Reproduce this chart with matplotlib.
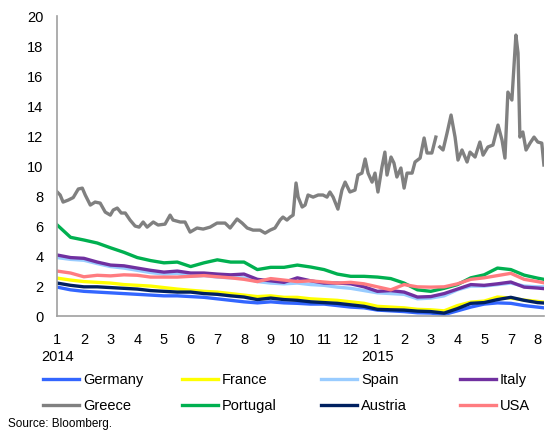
import matplotlib
matplotlib.use("Agg")
import matplotlib.pyplot as plt
import numpy as np

plt.rcParams['font.family'] = ['Liberation Sans', 'DejaVu Sans']

# month offsets from January 2014 for the weekly-ish sample points
months = list(np.arange(0, 18.5, 0.5)) + [18.24]

germany = [1.93, 1.75, 1.65, 1.6, 1.55, 1.5, 1.45, 1.4, 1.35, 1.35,
           1.3, 1.25, 1.15, 1.05, 0.95, 0.88, 0.95, 0.88, 0.85, 0.8,
           0.8, 0.7, 0.6, 0.55, 0.4, 0.35, 0.3, 0.22, 0.2, 0.1,
           0.35, 0.6, 0.8, 0.88, 0.85, 0.7, 0.6, 0.55]
france = [2.53, 2.4, 2.3, 2.25, 2.2, 2.1, 2.05, 2.0, 1.9, 1.8,
          1.72, 1.65, 1.6, 1.5, 1.4, 1.3, 1.35, 1.25, 1.25, 1.15,
          1.1, 1.05, 0.95, 0.85, 0.65, 0.6, 0.55, 0.45, 0.42, 0.35,
          0.7, 0.93, 1.0, 1.27, 1.2, 1.07, 0.98, 0.93]
spain = [3.9, 3.78, 3.72, 3.5, 3.3, 3.2, 3.05, 2.9, 2.8, 2.85,
         2.65, 2.7, 2.6, 2.55, 2.55, 2.3, 2.2, 2.15, 2.2, 2.1,
         2.05, 1.93, 1.85, 1.7, 1.55, 1.5, 1.45, 1.15, 1.2, 1.35,
         1.75, 2.0, 2.0, 2.1, 2.2, 2.0, 1.95, 1.95]
italy = [4.07, 3.9, 3.85, 3.6, 3.4, 3.35, 3.2, 3.05, 2.93, 3.0,
         2.87, 2.87, 2.8, 2.75, 2.8, 2.45, 2.35, 2.25, 2.55, 2.35,
         2.2, 2.2, 2.15, 1.95, 1.65, 1.7, 1.6, 1.27, 1.3, 1.5,
         1.8, 2.1, 2.05, 2.15, 2.27, 1.93, 1.87, 1.83]
portugal = [6.07, 5.25, 5.07, 4.87, 4.55, 4.25, 3.9, 3.7, 3.55, 3.6,
            3.3, 3.55, 3.75, 3.6, 3.6, 3.1, 3.25, 3.25, 3.4, 3.27,
            3.1, 2.8, 2.65, 2.65, 2.6, 2.5, 2.2, 1.75, 1.65, 1.85,
            2.1, 2.55, 2.75, 3.2, 3.1, 2.73, 2.53, 2.45]
austria = [2.2, 2.05, 1.95, 1.95, 1.9, 1.85, 1.8, 1.7, 1.65, 1.6,
           1.6, 1.5, 1.45, 1.35, 1.27, 1.1, 1.2, 1.1, 1.05, 0.95,
           0.9, 0.85, 0.75, 0.65, 0.45, 0.42, 0.4, 0.33, 0.3, 0.2,
           0.5, 0.85, 0.9, 1.1, 1.25, 1.05, 0.9, 0.87]
usa = [3.0, 2.87, 2.62, 2.72, 2.68, 2.75, 2.72, 2.6, 2.6, 2.6,
       2.65, 2.7, 2.62, 2.55, 2.45, 2.3, 2.5, 2.4, 2.3, 2.35,
       2.27, 2.2, 2.25, 2.15, 1.95, 1.75, 2.1, 1.95, 1.93, 1.95,
       2.15, 2.45, 2.55, 2.7, 2.85, 2.45, 2.3, 2.22]

# Greece moves a lot more, so it gets its own finer sampling
greece_months = [0.00, 0.11, 0.22, 0.41, 0.60, 0.79, 0.94, 1.05, 1.24, 1.42,
                 1.61, 1.80, 1.99, 2.10, 2.25, 2.40, 2.55, 2.73, 2.92, 3.07,
                 3.22, 3.37, 3.60, 3.78, 4.04, 4.23, 4.34, 4.61, 4.79, 4.98,
                 5.24, 5.47, 5.73, 5.99, 6.29, 6.48, 6.74, 6.93, 7.12, 7.34,
                 7.60, 7.79, 7.98, 8.16, 8.35, 8.46, 8.61, 8.73, 8.84, 8.95,
                 9.03, 9.18, 9.29, 9.40, 9.59, 9.78, 9.96, 10.11, 10.22, 10.34,
                 10.52, 10.67, 10.79, 10.97, 11.16, 11.27, 11.42, 11.54, 11.65, 11.80,
                 11.91, 12.02, 12.17, 12.28, 12.36, 12.51, 12.62, 12.73, 12.88, 13.00,
                 13.11, 13.30, 13.41, 13.60, 13.75, 13.86, 14.04, 14.19, 14.27, 14.34,
                 14.46, 14.61, 14.76, 14.91, 15.02, 15.17, 15.36, 15.47, 15.66, 15.84,
                 15.96, 16.14, 16.33, 16.52, 16.67, 16.78, 16.89, 17.04, 17.19, 17.27,
                 17.34, 17.45, 17.57, 17.72, 17.87, 18.01, 18.16, 18.24]
greece = [8.27, 8.07, 7.6, 7.73, 7.9, 8.47, 8.53, 8.07, 7.4, 7.6,
          7.53, 6.93, 6.73, 7.07, 7.2, 6.87, 6.87, 6.4, 6.0, 5.93,
          6.27, 5.93, 6.27, 6.07, 6.13, 6.73, 6.4, 6.27, 6.27, 5.6,
          5.87, 5.8, 5.93, 6.2, 6.2, 5.87, 6.47, 6.2, 5.87, 5.73,
          5.73, 5.53, 5.73, 5.87, 6.4, 6.6, 6.4, 6.6, 6.73, 8.87,
          7.93, 7.27, 7.4, 8.07, 7.93, 8.07, 8.07, 7.93, 8.27, 7.93,
          7.13, 8.4, 8.93, 8.27, 8.4, 9.4, 9.53, 10.47, 9.53, 8.93,
          9.53, 8.27, 9.93, 10.93, 9.4, 10.6, 10.2, 9.27, 9.87, 8.53,
          9.53, 9.53, 10.27, 10.53, 11.87, 10.87, 10.87, 11.93, np.nan, 11.27,
          11.07, 12.2, 13.4, 11.93, 10.4, 11.07, 10.27, 10.93, 10.6, 11.6,
          10.73, 11.27, 11.4, 12.73, 11.73, 10.53, 14.93, 14.4, 18.73, 17.53,
          11.93, 12.27, 11.07, 11.53, 11.93, 11.6, 11.53, 10.07]

month_labels = ['1', '2', '3', '4', '5', '6', '7', '8', '9', '10', '11', '12',
                '1', '2', '3', '4', '5', '7', '8']
year_labels = {0: '2014', 12: '2015'}

series = [
    ('Germany', months, germany, '#3366FF'),
    ('France', months, france, '#FFFF00'),
    ('Spain', months, spain, '#99CCFF'),
    ('Italy', months, italy, '#7030A0'),
    ('Greece', greece_months, greece, '#808080'),
    ('Portugal', months, portugal, '#00B050'),
    ('Austria', months, austria, '#002060'),
    ('USA', months, usa, '#FF7C80'),
]

fig = plt.figure(figsize=(5.45, 4.33), dpi=100)
ax = fig.add_axes([0.105, 0.27, 0.893, 0.693])

handles = {}
for name, xs, ys, color in series:
    line, = ax.plot(xs, ys, color=color, linewidth=2.4, label=name)
    handles[name] = line

ax.set_xlim(0, 18.24)
ax.set_ylim(0, 20)
ax.set_yticks(np.arange(0, 21, 2))
ax.set_xticks(range(len(month_labels)))
ax.set_xticklabels(month_labels)
ax.tick_params(axis='both', length=0, labelsize=10.5, colors='black')
ax.tick_params(axis='y', pad=10)
ax.tick_params(axis='x', pad=12.5)

for side in ['top', 'right']:
    ax.spines[side].set_visible(False)
for side in ['left', 'bottom']:
    ax.spines[side].set_color('#A0A0A0')
    ax.spines[side].set_linewidth(1.2)

for pos, year in year_labels.items():
    ax.annotate(year, xy=(pos, 0), xycoords=('data', 'axes fraction'),
                xytext=(0, -29.5), textcoords='offset points',
                ha='center', va='center', fontsize=10.5)

# two-entry legend per column so the columns sit on a fixed grid
columns = [('Germany', 'Greece'), ('France', 'Portugal'),
           ('Spain', 'Austria'), ('Italy', 'USA')]
col_x = [43, 182, 321, 460]
for names, x0 in zip(columns, col_x):
    fig.legend(handles=[handles[n] for n in names], labels=list(names),
               loc='upper left', bbox_to_anchor=(x0 / 545, 1 - 373 / 433),
               frameon=False, fontsize=10.5, handlelength=2.45,
               handletextpad=0.3, borderpad=0, borderaxespad=0,
               labelspacing=0.85)

fig.text(8 / 545, 1 - 424 / 433, 'Source: Bloomberg.', fontsize=8.5,
         ha='left', va='center')

fig.savefig('out.png', dpi=100)
